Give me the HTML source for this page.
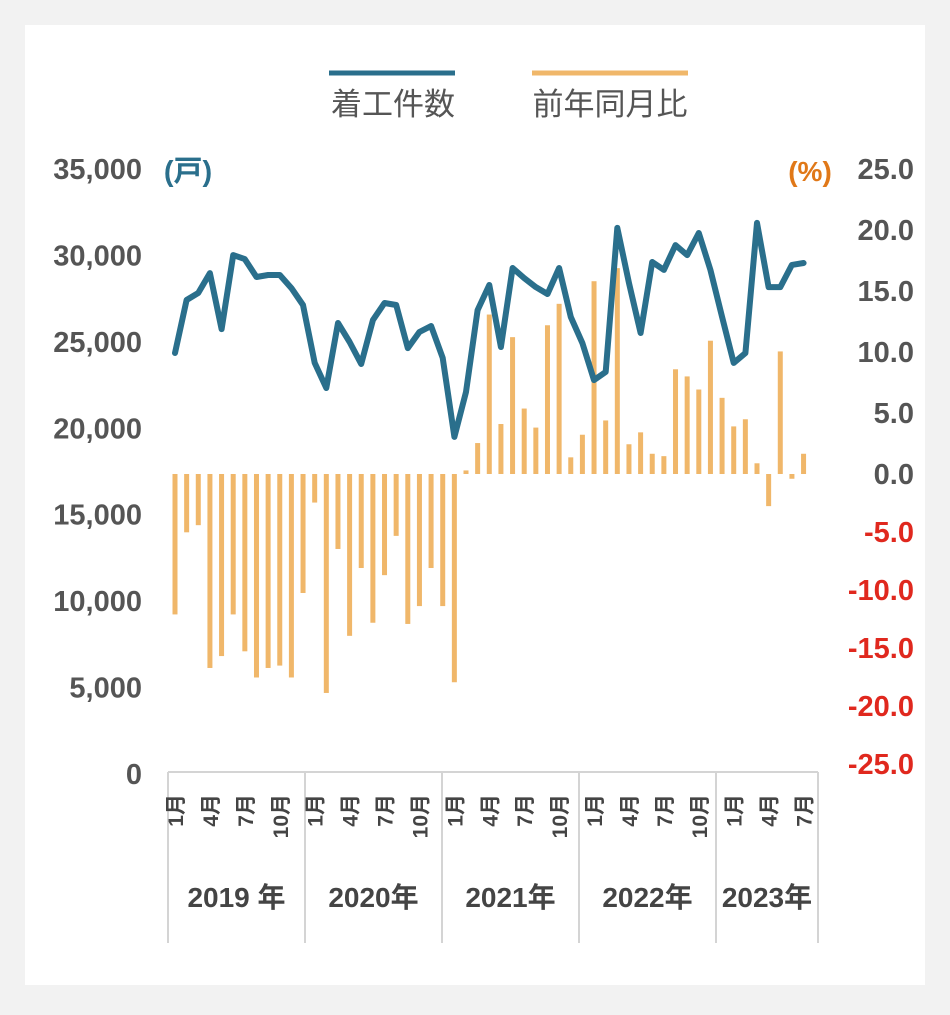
<!DOCTYPE html>
<html><head><meta charset="utf-8">
<style>
html,body{margin:0;padding:0;background:#f2f2f2;}
#wrap{position:relative;width:950px;height:1010px;}
svg text{font-family:"Liberation Sans","Noto Sans CJK JP",sans-serif;}
</style></head>
<body>
<div id="wrap">
<svg id="chart" width="950" height="1010" viewBox="0 0 950 1010">
<rect x="25" y="25" width="900" height="960" fill="#ffffff"/>
<g>
<line x1="329" y1="73" x2="455" y2="73" stroke="#2a6f8c" stroke-width="5"/>
<text x="393" y="115" font-size="31" fill="#555" text-anchor="middle">着工件数</text>
<line x1="532" y1="73" x2="688" y2="73" stroke="#f0b76a" stroke-width="5"/>
<text x="610" y="115" font-size="31" fill="#555" text-anchor="middle">前年同月比</text>
</g>
<text x="188" y="181" font-size="29" font-weight="bold" fill="#2a6f8c" text-anchor="middle">(戸)</text>
<text x="810" y="181" font-size="28" font-weight="bold" fill="#e07818" text-anchor="middle">(%)</text>
<g id="gAxes"></g>
<g id="gBars"></g>
<g id="gLine"></g>
</svg>
</div>
<script>
const months = ["1","2","3","4","5","6","7","8","9","10","11","12"];
const years = ["2019 年","2020年","2021年","2022年","2023年"];
const starts = [24355,27420,27830,28980,25740,30020,29790,28750,28870,28870,28110,27130,
23780,22330,26090,24990,23720,26260,27250,27130,24640,25570,25920,24070,
19500,22100,26840,28290,24700,29270,28690,28170,27770,29270,26440,24930,
22790,23260,31590,28400,25510,29620,29160,30600,30020,31300,29160,26440,
23780,24350,31880,28170,28170,29450,29560];
const yoy = [-11.8,-4.9,-4.3,-16.3,-15.3,-11.8,-14.9,-17.1,-16.3,-16.1,-17.1,-10.0,
-2.4,-18.4,-6.3,-13.6,-7.9,-12.5,-8.5,-5.2,-12.6,-11.1,-7.9,-11.1,
-17.5,0.3,2.6,13.4,4.2,11.5,5.5,3.9,12.5,14.3,1.4,3.3,
16.2,4.5,17.3,2.5,3.5,1.7,1.5,8.8,8.2,7.1,11.2,6.4,
4.0,4.6,0.9,-2.7,10.3,-0.4,1.7];
const leftTicks = [0,5000,10000,15000,20000,25000,30000,35000];
const rightTicks = [25,20,15,10,5,0,-5,-10,-15,-20,-25];
const monthTickLabels = ["1月","4月","7月","10月"];

const NS="http://www.w3.org/2000/svg";
function mk(tag,attrs,parent){const e=document.createElementNS(NS,tag);for(const k in attrs)e.setAttribute(k,attrs[k]);parent.appendChild(e);return e;}
const xOf = i => 175 + 11.64*i;
const yL = v => 774 - v*605/35000;
const yR = v => 474 - v*11.9;
const yRTick = v => v>=0 ? 474 - v*12.2 : 474 - v*11.6;

const gA=document.getElementById('gAxes');
leftTicks.forEach(t=>{
  const e=mk('text',{x:142,y:yL(t)+10,'font-size':29,'font-weight':'bold',fill:'#555','text-anchor':'end'},gA);
  
  
  e.textContent=t.toLocaleString('en-US');
});
rightTicks.forEach(t=>{
  const e=mk('text',{x:914,y:yRTick(t)+10,'font-size':29,'font-weight':'bold',fill:t<0?'#e0281e':'#555','text-anchor':'end'},gA);
  
  
  e.textContent=t.toFixed(1);
});
const bounds=[168,305,442,579,716,818];
const hl=mk('line',{x1:168,y1:772,x2:818,y2:772,stroke:'#d4d4d4','stroke-width':2},gA);


bounds.forEach(b=>{
  const l=mk('line',{x1:b,y1:772,x2:b,y2:943,stroke:'#d4d4d4','stroke-width':2},gA);
  
  
});
years.forEach((y,k)=>{
  const cx=(bounds[k]+bounds[k+1])/2;
  const e=mk('text',{x:cx,y:907,'font-size':28,'font-weight':'bold',fill:'#444','text-anchor':'middle'},gA);
  
  
  e.textContent=y;
});
for(let i=0;i<starts.length;i++){
  const m=i%12;
  if(m%3!==0) continue;
  const x=xOf(i);
  const e=mk('text',{x:0,y:0,'font-size':21,'font-weight':'bold',fill:'#444','text-anchor':'end',transform:`translate(${x+8},794) rotate(-90)`},gA);
  
  
  e.textContent=monthTickLabels[m/3];
}

const gB=document.getElementById('gBars');
yoy.forEach((v,i)=>{
  const y0=yR(0), y1=yR(v);
  const r=mk('rect',{x:xOf(i)-2.5,y:Math.min(y0,y1),width:5,height:Math.max(2,Math.abs(y1-y0)),fill:'#f0b76a'},gB);
  
  
});
const gL=document.getElementById('gLine');
const pts=starts.map((v,i)=>xOf(i).toFixed(1)+','+yL(v).toFixed(1)).join(' ');
const pl=mk('polyline',{points:pts,fill:'none',stroke:'#2a6f8c','stroke-width':6,'stroke-linejoin':'round','stroke-linecap':'round'},gL);


</script>
</body></html>
